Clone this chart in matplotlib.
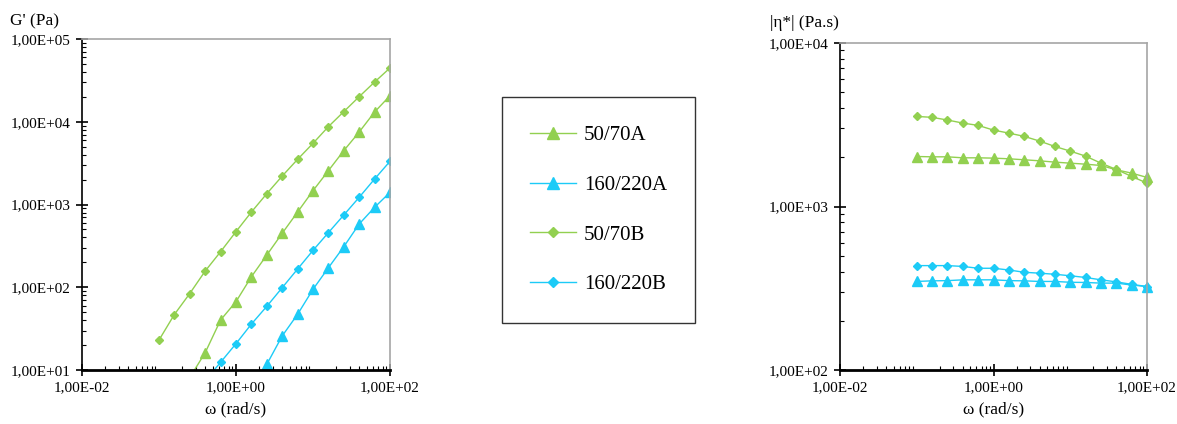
import matplotlib.pyplot as plt
import numpy as np
from matplotlib.ticker import LogLocator, FixedLocator, FuncFormatter, NullFormatter

plt.rcParams['font.family'] = ['Liberation Serif', 'DejaVu Serif']

# angular frequency sweep (rad/s), 5 points per decade
omega = [0.1, 0.158, 0.251, 0.398, 0.631, 1.0, 1.585, 2.512, 3.981, 6.31,
         10.0, 15.85, 25.12, 39.81, 63.1, 100.0]

# storage modulus G' (Pa); None = not measured
g_50_70A = [None, None, 8.1, 16.2, 40.2, 67, 134, 245, 449, 811,
            1469, 2564, 4478, 7518, 13120, 20650]
g_160_220A = [None, None, None, None, 5.6, 11.7, 25.8, 47.1, 94.4, 172,
              309, 581, 925, 1403]
g_160_220A = [None, None] + g_160_220A
g_50_70B = [23, 46.7, 84, 157, 269, 470, 811, 1352, 2207, 3513,
            5485, 8730, 13250, 20100, 30200, 44700]
g_160_220B = [None, None, None, 7.4, 12.4, 20.8, 35.9, 58.8, 98.8, 166,
              279, 457, 746, 1222, 2033, 3327]

# complex viscosity |eta*| (Pa.s)
eta_50_70A = [2022, 2013, 2013, 1985, 1985, 1976, 1958, 1931, 1903, 1868,
              1841, 1815, 1782, 1677, 1600, 1506]
eta_160_220A = [348, 351, 352, 356, 356, 356, 352, 351, 348, 348,
                344, 343, 340, 340, 331, 324]
eta_50_70B = [3556, 3510, 3380, 3238, 3133, 2933, 2811, 2685, 2513, 2329,
              2181, 2033, 1841, 1685, 1528, 1390]
eta_160_220B = [435, 435, 435, 430, 419, 419, 409, 396, 391, 385,
                377, 368, 356, 346, 334, 324]

names = ['50/70A', '160/220A', '50/70B', '160/220B']
green = '#92D050'
blue = '#1CCBF7'
colors = [green, blue, green, blue]
markers = ['^', '^', 'D', 'D']
msizes = [6.5, 6.5, 3.8, 3.8]

g_series = [g_50_70A, g_160_220A, g_50_70B, g_160_220B]
eta_series = [eta_50_70A, eta_160_220A, eta_50_70B, eta_160_220B]


def sci_comma(v, pos):
    e = int(round(np.log10(v)))
    return '1,00E%s%02d' % ('+' if e >= 0 else '-', abs(e))


def style_axes(ax, ylo, yhi):
    ax.set_xscale('log')
    ax.set_yscale('log')
    ax.set_xlim(1e-2, 1e2)
    ax.set_ylim(ylo, yhi)
    ax.xaxis.set_major_locator(FixedLocator([1e-2, 1e0, 1e2]))
    ax.yaxis.set_major_locator(LogLocator(base=10, subs=[1.0]))
    ax.xaxis.set_minor_locator(LogLocator(base=10, subs=np.arange(2, 10), numticks=20))
    ax.yaxis.set_minor_locator(LogLocator(base=10, subs=np.arange(2, 10), numticks=20))
    ax.xaxis.set_major_formatter(FuncFormatter(sci_comma))
    ax.yaxis.set_major_formatter(FuncFormatter(sci_comma))
    ax.xaxis.set_minor_formatter(NullFormatter())
    ax.yaxis.set_minor_formatter(NullFormatter())
    ax.tick_params(which='major', direction='inout', length=8, width=1.2,
                   labelsize=11, pad=4, color='black')
    ax.tick_params(which='minor', direction='in', length=3, width=0.8,
                   color='black')
    for s in ('top', 'right'):
        ax.spines[s].set_color('#A6A6A6')
        ax.spines[s].set_linewidth(1.2)
    ax.spines['left'].set_linewidth(1.2)
    ax.spines['bottom'].set_linewidth(2.0)
    ax.set_xlabel('ω (rad/s)', fontsize=12.5, labelpad=5)


def to_arr(vals):
    return np.array([np.nan if v is None else v for v in vals], dtype=float)


fig = plt.figure(figsize=(11.77, 4.24), dpi=100)
W, H = 1177, 424
ax1 = fig.add_axes([82 / W, 1 - 370 / H, 308 / W, 331 / H])
ax2 = fig.add_axes([840 / W, 1 - 370 / H, 307 / W, 327 / H])

# G' vs omega
for name, vals, c, m, ms in zip(names, g_series, colors, markers, msizes):
    ax1.plot(omega, to_arr(vals), color=c, marker=m, markersize=ms, lw=1.0,
             label=name, clip_on=True)
style_axes(ax1, 1e1, 1e5)
fig.text(10 / W, 1 - 21 / H, "G' (Pa)", fontsize=12.5, va='center', ha='left')

# |eta*| vs omega
for name, vals, c, m, ms in zip(names, eta_series, colors, markers, msizes):
    ax2.plot(omega, to_arr(vals), color=c, marker=m, markersize=ms, lw=1.0,
             label=name, clip_on=False)
style_axes(ax2, 1e2, 1e4)
fig.text(770 / W, 1 - 23 / H, '|η*| (Pa.s)', fontsize=12.5, va='center', ha='left')

# shared legend between the two plots
handles, labels = ax1.get_legend_handles_labels()
leg = fig.legend(handles, labels, loc='center',
                 bbox_to_anchor=(598.5 / W, 1 - 210 / H),
                 fontsize=15, frameon=True, fancybox=False, edgecolor='black',
                 handlelength=2.2, labelspacing=1.45, borderpad=1.35,
                 markerscale=1.4, handletextpad=0.4, borderaxespad=0)
leg.get_frame().set_linewidth(1.0)

fig.savefig('out.png', dpi=100)
